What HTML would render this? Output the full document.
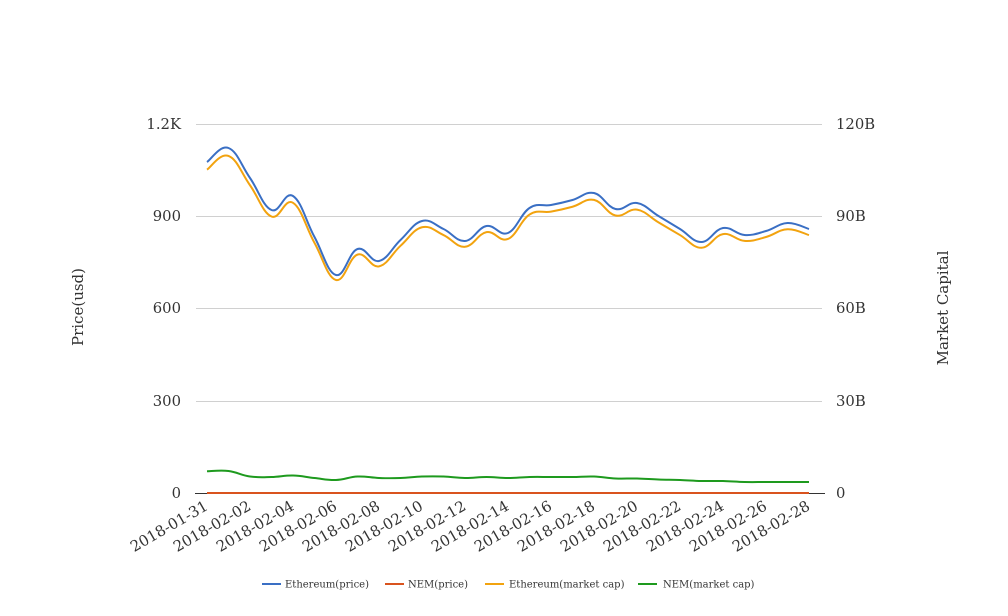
<!DOCTYPE html>
<html><head><meta charset="utf-8"><style>
body{margin:0;background:#fff;}
svg{display:block;font-family:"DejaVu Serif","Liberation Serif",serif;}
</style></head><body>
<svg id="c" width="1008" height="616" viewBox="0 0 1008 616" xmlns="http://www.w3.org/2000/svg">
<g stroke="#d0d0d0" stroke-width="1">
<line x1="196" y1="124.5" x2="822" y2="124.5"/>
<line x1="196" y1="216.5" x2="822" y2="216.5"/>
<line x1="196" y1="308.5" x2="822" y2="308.5"/>
<line x1="196" y1="401.5" x2="822" y2="401.5"/>
</g>
<line x1="195" y1="493.5" x2="825" y2="493.5" stroke="#333" stroke-width="1"/>
<g font-size="14.8" fill="#333" text-anchor="end">
<text x="181" y="129">1.2K</text><text x="181" y="221">900</text><text x="181" y="313">600</text><text x="181" y="406">300</text><text x="181" y="498">0</text>
</g>
<g font-size="14.8" fill="#333">
<text x="836" y="129">120B</text><text x="836" y="221">90B</text><text x="836" y="313">60B</text><text x="836" y="406">30B</text><text x="836" y="498">0</text>
</g>
<text transform="translate(83,307) rotate(-90)" font-size="15" fill="#333" text-anchor="middle">Price(usd)</text>
<text transform="translate(948,308) rotate(-90)" font-size="15" fill="#333" text-anchor="middle">Market Capital</text>
<g id="xl" font-size="15" fill="#333" text-anchor="end"></g>
<g id="series" fill="none" stroke-width="2"></g>
<g font-size="10" fill="#333">
<line x1="262" y1="584" x2="281" y2="584" stroke="#3a6fc4" stroke-width="2"/><text x="285" y="587.5">Ethereum(price)</text>
<line x1="385" y1="584" x2="404" y2="584" stroke="#d9531e" stroke-width="2"/><text x="408" y="587.5">NEM(price)</text>
<line x1="485" y1="584" x2="504" y2="584" stroke="#f2a30f" stroke-width="2"/><text x="509" y="587.5">Ethereum(market cap)</text>
<line x1="638" y1="584" x2="657" y2="584" stroke="#1e9a1e" stroke-width="2"/><text x="663" y="587.5">NEM(market cap)</text>
</g>
</svg>
<script>
var ns="http://www.w3.org/2000/svg";
var X=function(i){return 207+21.5*i;};
var blue=[162,148,178,210,196,237,275,249,261,240,221,229,241,226,233,208,205,200,193,209,203,216,229,242,228,235,231,223,229];
var orange=blue.map(function(y){var v=(493-y)/0.3075*0.977;return 493-v*0.3075;});
var green=[471.3,471,476.5,477,475.5,478,480,476.5,478,478,476.5,476.5,478,477,478,477,477,477,476.5,478.5,478.5,479.5,480,481,481,482,482,482,482];
var red=blue.map(function(){return 493;});
function path(ys){var p=[];for(var i=0;i<ys.length;i++)p.push([X(i),ys[i]]);
var d="M"+p[0][0]+","+p[0][1];
for(var i=0;i<p.length-1;i++){var p0=p[Math.max(0,i-1)],p1=p[i],p2=p[i+1],p3=p[Math.min(p.length-1,i+2)];
var t=0.2;
d+=" C"+(p1[0]+(p2[0]-p0[0])*t)+","+(p1[1]+(p2[1]-p0[1])*t)+" "+(p2[0]-(p3[0]-p1[0])*t)+","+(p2[1]-(p3[1]-p1[1])*t)+" "+p2[0]+","+p2[1];}
return d;}
var g=document.getElementById("series");
[[orange,"#f2a30f"],[blue,"#3a6fc4"],[green,"#1e9a1e"],[red,"#d9531e"]].forEach(function(s){
var e=document.createElementNS(ns,"path");e.setAttribute("d",path(s[0]));e.setAttribute("stroke",s[1]);g.appendChild(e);});
var xl=document.getElementById("xl");
for(var i=0;i<29;i+=2){var d=new Date(Date.UTC(2018,0,31+i));
var s=d.getUTCFullYear()+"-"+("0"+(d.getUTCMonth()+1)).slice(-2)+"-"+("0"+d.getUTCDate()).slice(-2);
var t=document.createElementNS(ns,"text");t.setAttribute("transform","translate("+(X(i)+2)+",509) rotate(-30)");t.textContent=s;xl.appendChild(t);}
</script>
</body></html>
